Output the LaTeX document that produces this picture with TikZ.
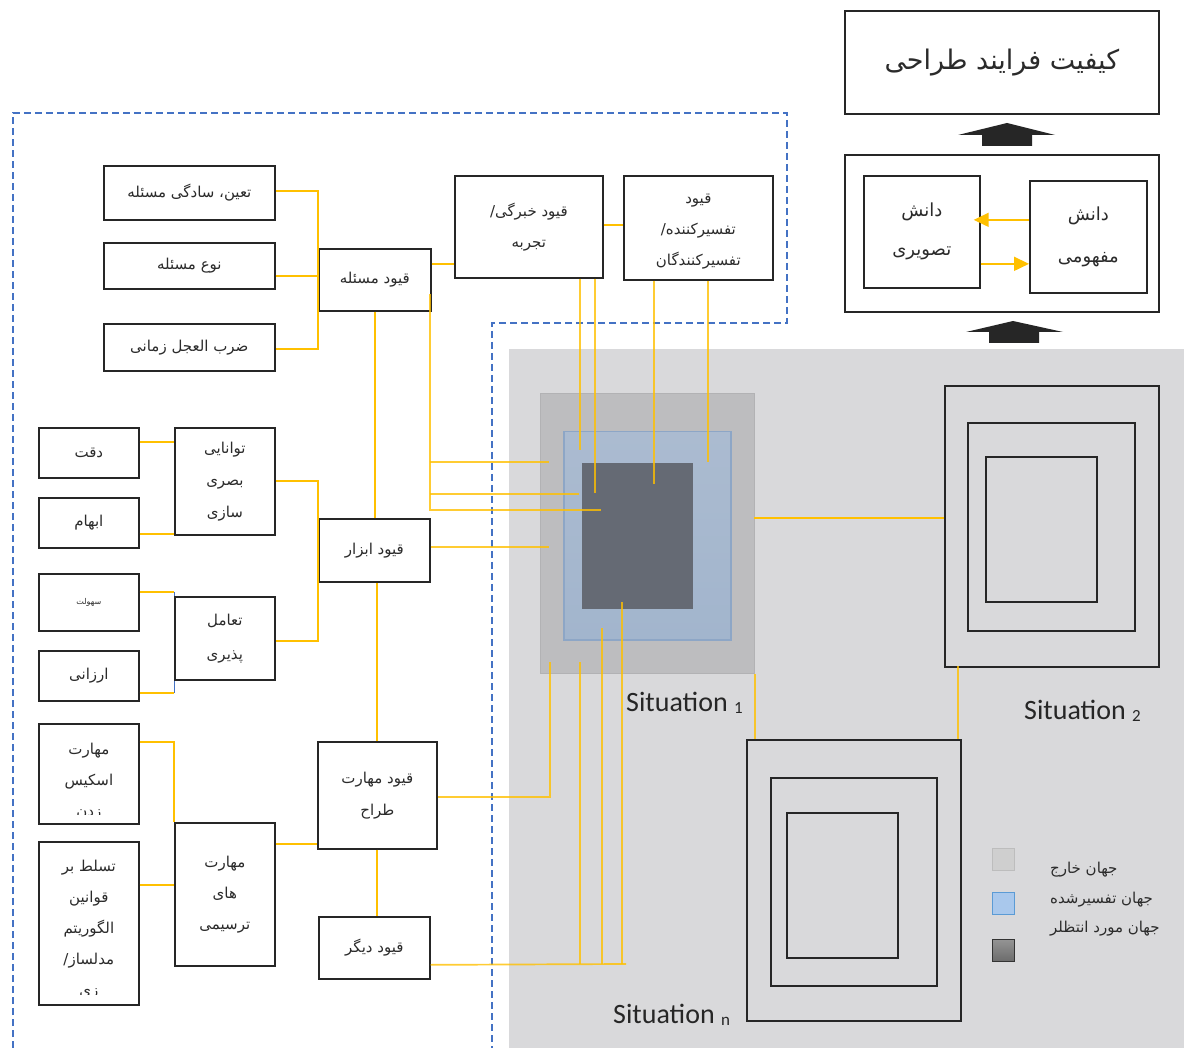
\documentclass[tikz,border=0pt]{standalone}
\usepackage{fontspec}
\setmainfont{DejaVu Sans}
\newfontfamily\fafont[Script=Arabic]{DejaVu Sans}
\newfontfamily\latfont{Carlito}
\usetikzlibrary{arrows.meta}
\TeXXeTstate=1
\newcommand{\fa}[1]{{\fafont\beginR #1\endR}}
\newcommand{\faslash}{\hbox{/}}
\definecolor{yl}{HTML}{FFC000}
\definecolor{boxc}{HTML}{262626}
\definecolor{txc}{HTML}{2B2B2B}
\definecolor{dashb}{HTML}{4472C4}
\definecolor{bgc}{HTML}{D9D9DB}
\definecolor{sone}{HTML}{BDBDBF}
\definecolor{soneb}{HTML}{B2B2B4}
\definecolor{sblue}{HTML}{ABBBD0}
\definecolor{sblue2}{HTML}{A2B5CD}
\definecolor{sblueb}{HTML}{8DA6C6}
\definecolor{sdark}{HTML}{656A74}
\definecolor{lgblue}{HTML}{A9C8EC}
\definecolor{lgblueb}{HTML}{5B9BD5}
\tikzset{
  bx/.style={draw=boxc, line width=1.7pt, fill=white, inner sep=0pt, align=center, text=txc,
    font=\fontsize{15}{31}\selectfont, anchor=north west},
  srect/.style={draw=boxc, line width=1.7pt, inner sep=0pt, anchor=north west},
  ylw/.style={draw=yl, line width=1.7pt},
  yli/.style={draw=yl, line width=1.7pt, opacity=0.8},
  bluedash/.style={draw=dashb, line width=1.6pt, dash pattern=on 7pt off 4pt},
  txt/.style={inner sep=0pt, align=center, text=txc, font=\fontsize{15}{31}\selectfont},
  sitlab/.style={inner sep=0pt, anchor=base west, text=boxc},
  lgsq/.style={line width=1pt, inner sep=0pt, minimum size=22pt, anchor=north west},
  lgtx/.style={inner sep=0pt, anchor=base west, text=txc, font=\fontsize{15}{18}\selectfont}
}
\begin{document}
\begin{tikzpicture}[x=1pt,y=-1pt]
\useasboundingbox (0,0) rectangle (1184,1048);
\fill[white] (0,0) rectangle (1184,1048);
\fill[bgc] (509,349) rectangle (1184,1048);

% blue dashed outline
\draw[bluedash] (13,1048) -- (13,113) -- (787,113) -- (787,323) -- (492,323) -- (492,1048);

% top right
\node[bx, minimum width=314pt, minimum height=103pt, font=\fontsize{27}{30}\selectfont] (bkf) at (844,10) {\fa{کیفیت فرایند طراحی}};
\node[bx, minimum width=314pt, minimum height=157pt] (bdn) at (844,154) {};
\node[bx, minimum width=116pt, minimum height=112pt, font=\fontsize{18}{39}\selectfont] (bdt) at (863,175) {\fa{دانش}\\\fa{تصویری}};
\node[bx, minimum width=117pt, minimum height=112pt, font=\fontsize{18}{42}\selectfont] (bdm) at (1029,180) {\fa{دانش}\\\fa{مفهومی}};
\fill[boxc] (982,146) -- (982,135) -- (958,135) -- (1007,123) -- (1055,135) -- (1032,135) -- (1032,146) -- cycle;
\fill[boxc] (989,343) -- (989,332) -- (966,332) -- (1013,321) -- (1063,332) -- (1039,332) -- (1039,343) -- cycle;
\draw[ylw, -{Triangle[length=15pt,width=14pt]}, shorten >=-7pt] ([yshift=17pt]bdm.west) -- ([yshift=17pt]bdm.west -| bdt.east);
\draw[ylw, -{Triangle[length=15pt,width=14pt]}] ([yshift=-32pt]bdt.east) -- ([yshift=-32pt]bdt.east -| bdm.west);

% situation 1
\node[srect, draw=soneb, line width=1pt, fill=sone, minimum width=214pt, minimum height=280pt] (s1o) at (540,393) {};
\node[srect, draw=sblueb, line width=1.5pt, top color=sblue, bottom color=sblue2, minimum width=167pt, minimum height=208pt] (s1b) at (563,431) {};
\node[srect, draw=none, fill=sdark, minimum width=111pt, minimum height=146pt] (s1d) at (581,462) {};
\node[sitlab] (l1) at (626,711) {\latfont\fontsize{28}{30}\selectfont Situation \fontsize{17}{18}\selectfont\raisebox{-2.5pt}{1}};

% situation 2
\node[srect, minimum width=214pt, minimum height=281pt] (s2o) at (944,385) {};
\node[srect, minimum width=167pt, minimum height=208pt] (s2m) at (967,422) {};
\node[srect, minimum width=111pt, minimum height=145pt] (s2i) at (985,456) {};
\node[sitlab] (l2) at (1024,719) {\latfont\fontsize{28}{30}\selectfont Situation \fontsize{17}{18}\selectfont\raisebox{-2.5pt}{2}};

% situation n
\node[srect, minimum width=214pt, minimum height=281pt] (sno) at (746,739) {};
\node[srect, minimum width=166pt, minimum height=208pt] (snm) at (770,777) {};
\node[srect, minimum width=111pt, minimum height=145pt] (sni) at (786,812) {};
\node[sitlab] (ln) at (613,1023) {\latfont\fontsize{28}{30}\selectfont Situation \fontsize{17}{18}\selectfont\raisebox{-2.5pt}{n}};

% legend
\node[lgsq, fill=black!19, draw=black!26] (lg1) at (992,848) {};
\node[lgsq, fill=lgblue, draw=lgblueb] (lg2) at (992,892) {};
\node[lgsq, top color=black!42, bottom color=black!58, draw=black!80] (lg3) at (992,939) {};
\node[lgtx] (lt1) at (1050,873) {\fa{جهان خارج}};
\node[lgtx] (lt2) at (1050,903) {\fa{جهان تفسیرشده}};
\node[lgtx] (lt3) at (1050,932) {\fa{جهان مورد انتظلر}};

% left boxes
\node[bx, minimum width=171pt, minimum height=54pt] (bq1) at (103,165) {\fa{تعین، سادگی مسئله}};
\node[bx, minimum width=171pt, minimum height=46pt] (bq2) at (103,242) {\fa{نوع مسئله}};
\node[bx, minimum width=171pt, minimum height=47pt] (bq3) at (103,323) {\fa{ضرب العجل زمانی}};
\node[bx, minimum width=112pt, minimum height=62pt] (bqm) at (318,248) {\fa{قیود مسئله}};
\node[bx, minimum width=148pt, minimum height=102pt] (bkh) at (454,175) {\fa{قیود خبرگی\faslash}\\\fa{تجربه}};
\node[bx, minimum width=149pt, minimum height=104pt] (btf) at (623,175) {};
\begin{scope}
\clip ([xshift=2pt,yshift=-2pt]btf.north west) rectangle ([xshift=-2pt,yshift=9pt]btf.south east);
\node[txt] (btft) at ([yshift=-4pt]btf.center) {\fa{قیود}\\\fa{تفسیرکننده\faslash}\\\fa{تفسیرکنندگان}};
\end{scope}

\node[bx, minimum width=100pt, minimum height=50pt] (bdq) at (38,427) {\fa{دقت}};
\node[bx, minimum width=100pt, minimum height=50pt] (bab) at (38,497) {\fa{ابهام}};
\node[bx, minimum width=100pt, minimum height=57pt, font=\fontsize{8}{9}\selectfont] (bsh) at (38,573) {\fa{سهولت}};
\node[bx, minimum width=100pt, minimum height=50pt] (bar) at (38,650) {\fa{ارزانی}};
\node[bx, minimum width=100pt, minimum height=107pt, font=\fontsize{15}{32}\selectfont] (btv) at (174,427) {\fa{توانایی}\\\fa{بصری}\\\fa{سازی}};
\node[bx, minimum width=100pt, minimum height=83pt, font=\fontsize{15}{34}\selectfont] (bta) at (174,596) {\fa{تعامل}\\\fa{پذیری}};
\node[bx, minimum width=111pt, minimum height=63pt] (bqa) at (318,518) {\fa{قیود ابزار}};

\node[bx, minimum width=100pt, minimum height=100pt] (bms) at (38,723) {};
\begin{scope}
\clip ([xshift=2pt,yshift=-2pt]bms.north west) rectangle ([xshift=-2pt,yshift=10pt]bms.south east);
\node[txt] (bmst) at ([yshift=-8pt]bms.center) {\fa{مهارت}\\\fa{اسکیس}\\\fa{زدن}};
\end{scope}
\node[bx, minimum width=100pt, minimum height=163pt] (btq) at (38,841) {};
\begin{scope}
\clip ([xshift=2pt,yshift=-2pt]btq.north west) rectangle ([xshift=-2pt,yshift=11pt]btq.south east);
\node[txt] (btqt) at ([yshift=-6.5pt]btq.center) {\fa{تسلط بر}\\\fa{قوانین}\\\fa{الگوریتم}\\\fa{مدلساز\faslash}\\\fa{زی}};
\end{scope}
\node[bx, minimum width=100pt, minimum height=143pt] (bmt) at (174,822) {\fa{مهارت}\\\fa{های}\\\fa{ترسیمی}};
\node[bx, minimum width=119pt, minimum height=107pt, font=\fontsize{15}{32}\selectfont] (bqt) at (317,741) {\fa{قیود مهارت}\\\fa{طراح}};
\node[bx, minimum width=111pt, minimum height=62pt] (bqd) at (318,916) {\fa{قیود دیگر}};

% connectors: problem constraints
\draw[ylw] ([yshift=2pt]bq1.east) -- ([yshift=2pt]bq1.east -| bqm.west) -- ([yshift=-1.5pt]bq3.east -| bqm.west) -- ([yshift=-1.5pt]bq3.east);
\draw[ylw] ([yshift=-10pt]bq2.east) -- ([yshift=-10pt]bq2.east -| bqm.west);
\draw[ylw] ([yshift=16pt]bqm.east) -- ([yshift=16pt]bqm.east -| bkh.west);
\draw[ylw] ([yshift=2pt]bkh.east) -- ([yshift=2pt]bkh.east -| btf.west);
\draw[ylw] (bqm.south) -- (bqm.south |- bqa.north);
\draw[ylw] ([xshift=-0.5pt]bqt.north) -- ([xshift=-0.5pt]bqt.north |- bqa.south);
\draw[ylw] ([xshift=-0.5pt]bqt.south) -- ([xshift=-0.5pt]bqt.south |- bqd.north);

% tool constraints
\draw[ylw] ([yshift=11pt]bdq.east) -- ([yshift=11pt]bdq.east -| btv.west);
\draw[ylw] ([yshift=-11pt]bab.east) -- ([yshift=-11pt]bab.east -| btv.west);
\draw[ylw] ([yshift=0.5pt]btv.east) -- ([yshift=0.5pt]btv.east -| bqa.west) -- ([yshift=-2.5pt]bta.east -| bqa.west) -- ([yshift=-2.5pt]bta.east);
\draw[ylw] ([yshift=10.5pt]bsh.east) -- ([yshift=10.5pt]bsh.east -| bta.west);
\draw[dashb, line width=0.8pt] ([yshift=10.5pt]bsh.east -| bta.west) -- (bta.north west);
\draw[ylw] ([yshift=-17pt]bar.east) -- ([yshift=-17pt]bar.east -| bta.west);
\draw[dashb, line width=0.8pt] ([yshift=-17pt]bar.east -| bta.west) -- (bta.south west);

% drawing skills
\draw[ylw] ([yshift=32pt]bms.east) -- ([yshift=32pt]bms.east -| bmt.west) -- (bmt.north west);
\draw[ylw] ([yshift=38.5pt]btq.east) -- ([yshift=38.5pt]btq.east -| bmt.west);
\draw[ylw] ([yshift=50.5pt]bmt.east) -- ([yshift=50.5pt]bmt.east -| bqt.west);

% into situation 1
\coordinate (p1) at (549,462);
\coordinate (p2) at (579,494);
\coordinate (p3) at (601,510);
\coordinate (p4) at (549,547);
\coordinate (p5) at (580,450);
\coordinate (p6) at (595,493);
\coordinate (p7) at (654,484);
\coordinate (p8) at (708,462);
\coordinate (p9) at (550,662);
\coordinate (q0) at (626,964);
\coordinate (p10) at (580,662);
\coordinate (p11) at (602,628);
\coordinate (p12) at (622,602);
\draw[yli] ([xshift=-2pt,yshift=-14pt]bqm.east) -- ([xshift=-2pt]bqm.east |- p3) -- (p3);
\draw[yli] ([xshift=-2pt]bqm.east |- p1) -- (p1);
\draw[yli] ([xshift=-2pt]bqm.east |- p2) -- (p2);
\draw[yli] (bqa.east |- p4) -- (p4);
\draw[yli] (bkh.south -| p5) -- (p5);
\draw[yli] (bkh.south -| p6) -- (p6);
\draw[yli] (btf.south -| p7) -- (p7);
\draw[yli] (btf.south -| p8) -- (p8);
\draw[yli] ([yshift=-1.5pt]bqt.east) -| (p9);
\draw[yli] ([yshift=-17pt]bqd.east) -- (q0);
\draw[yli] (p10 |- q0) -- (p10);
\draw[yli] (p11 |- q0) -- (p11);
\draw[yli] (p12 |- q0) -- (p12);

% between situations
\coordinate (c12) at (754,518);
\draw[ylw] (c12) -- (c12 -| s2o.west);
\draw[yli] (s1o.south east) -- (s1o.south east |- sno.north);
\coordinate (c2n) at (958,666);
\draw[yli] (c2n) -- (c2n |- sno.north);
\end{tikzpicture}
\end{document}
